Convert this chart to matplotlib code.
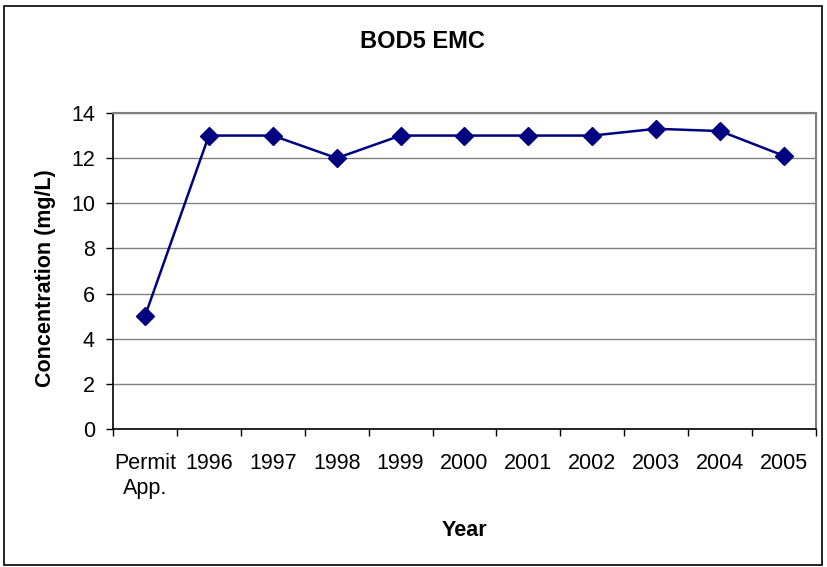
import numpy as np
import matplotlib

matplotlib.use("Agg")
import matplotlib.pyplot as plt
from matplotlib.patches import Rectangle

plt.rcParams["font.family"] = ["Liberation Sans", "DejaVu Sans"]

# BOD5 event mean concentration by year
categories = ["Permit\nApp.", "1996", "1997", "1998", "1999", "2000",
              "2001", "2002", "2003", "2004", "2005"]
concentration = [5.0, 13.0, 13.0, 12.0, 13.0, 13.0, 13.0, 13.0, 13.3, 13.2, 12.1]

NAVY = "#000080"
W, H = 828, 567

fig = plt.figure(figsize=(W / 100, H / 100), dpi=100)
ax = fig.add_axes([113 / W, 1 - 429 / H, 703 / W, 316 / H])

x = np.arange(len(categories))
ax.plot(x, concentration, color=NAVY, lw=1.8, marker="D", ms=9.5,
        mec=NAVY, mfc=NAVY, zorder=3, clip_on=False)

ax.set_xlim(-0.5, len(categories) - 0.5)
ax.set_ylim(0, 14)
ax.set_yticks(np.arange(0, 15, 2))
ax.yaxis.grid(True, color="#808080", lw=1.0)
ax.set_axisbelow(True)

# category boundaries get the tick marks, labels sit between them
ax.set_xticks(np.arange(-0.5, len(categories), 1.0))
ax.set_xticklabels([])
ax.set_xticks(x, minor=True)
ax.set_xticklabels(categories, minor=True, fontsize=15.5, va="top",
                   linespacing=1.25)
ax.tick_params(axis="x", which="major", length=5, width=1, color="black")
ax.tick_params(axis="x", which="minor", length=0, pad=17)
ax.tick_params(axis="y", length=5, width=1, labelsize=15.5, pad=8)

for side in ("top", "right"):
    ax.spines[side].set_color("#808080")
    ax.spines[side].set_linewidth(1.5)
for side in ("left", "bottom"):
    ax.spines[side].set_color("black")
    ax.spines[side].set_linewidth(1.2)

fig.text(422 / W, 1 - 41 / H, "BOD5 EMC", ha="center", va="center",
         fontsize=17, fontweight="bold")
fig.text(464 / W, 1 - 530 / H, "Year", ha="center", va="center",
         fontsize=15.5, fontweight="bold")
fig.text(46 / W, 1 - 278 / H, "Concentration (mg/L)", ha="center",
         va="center", rotation=90, fontsize=15.5, fontweight="bold")

# outer chart frame
fig.patches.append(Rectangle((4 / W, 2 / H), 818 / W, 559 / H,
                             transform=fig.transFigure, fill=False,
                             edgecolor="black", lw=1.2))

fig.savefig("out.png", dpi=100)
